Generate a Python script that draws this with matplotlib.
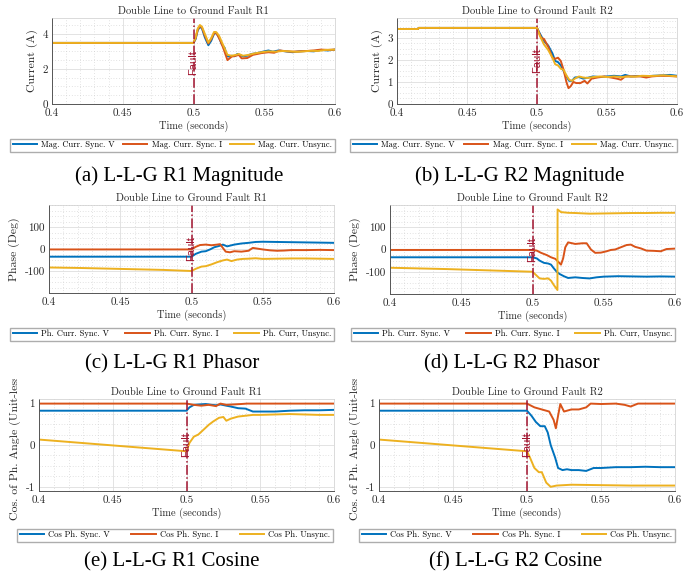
import numpy as np
import matplotlib
matplotlib.use("Agg")
import matplotlib.pyplot as plt
from matplotlib.ticker import AutoMinorLocator
from matplotlib.patches import Rectangle

plt.rcParams['font.family'] = 'cmr10'
plt.rcParams['axes.unicode_minus'] = False
plt.rcParams['mathtext.fontset'] = 'cm'

# couleurs style MATLAB
C_V = '#0072BD'
C_I = '#D95319'
C_U = '#EDB120'
C_FAULT = '#A2142F'

FAULT_T = 0.5
TITRES = ["Double Line to Ground Fault R1", "Double Line to Ground Fault R2"]

# (a) magnitude R1
a_tv = [0.4, 0.5, 0.5015, 0.503, 0.5045, 0.506, 0.508, 0.5105, 0.5125, 0.5145, 0.516, 0.518, 0.520, 0.522, 0.5235, 0.525, 0.527, 0.529, 0.531, 0.533, 0.535, 0.538, 0.541, 0.545, 0.55, 0.553, 0.556, 0.56, 0.565, 0.57, 0.575, 0.58, 0.585, 0.59, 0.595, 0.6]
a_v = [3.48, 3.48, 3.7, 4.2, 4.4, 4.3, 3.8, 3.35, 3.6, 4.0, 4.05, 3.8, 3.4, 3.2, 2.75, 2.7, 2.75, 2.72, 2.85, 2.78, 2.72, 2.75, 2.85, 2.9, 3.0, 3.05, 2.98, 3.05, 3.0, 2.95, 3.0, 3.02, 3.0, 3.08, 3.05, 3.1]
a_ti = [0.4, 0.5, 0.5015, 0.503, 0.5045, 0.506, 0.508, 0.5105, 0.5125, 0.515, 0.5165, 0.519, 0.521, 0.524, 0.527, 0.530, 0.532, 0.534, 0.538, 0.542, 0.548, 0.553, 0.557, 0.561, 0.566, 0.57, 0.575, 0.58, 0.585, 0.59, 0.595, 0.6]
a_i = [3.48, 3.48, 3.75, 4.25, 4.45, 4.35, 3.9, 3.45, 3.7, 4.1, 4.0, 3.6, 3.2, 2.5, 2.7, 2.75, 2.8, 2.6, 2.62, 2.8, 2.9, 2.95, 2.92, 3.05, 3.0, 2.98, 3.0, 3.02, 3.05, 3.1, 3.08, 3.1]
a_tu = [0.4, 0.5, 0.5015, 0.503, 0.5045, 0.506, 0.508, 0.5105, 0.5125, 0.5145, 0.516, 0.518, 0.521, 0.524, 0.527, 0.53, 0.532, 0.535, 0.539, 0.543, 0.548, 0.553, 0.558, 0.563, 0.568, 0.573, 0.578, 0.583, 0.588, 0.593, 0.6]
a_u = [3.48, 3.48, 3.8, 4.3, 4.5, 4.4, 4.0, 3.5, 3.75, 4.1, 4.1, 3.9, 3.35, 2.8, 2.75, 2.8, 2.85, 2.75, 2.8, 2.88, 2.95, 3.0, 2.98, 3.02, 3.0, 2.97, 3.0, 3.03, 3.02, 3.08, 3.1]

# (b) magnitude R2
b_tv = [0.4, 0.415, 0.4155, 0.5, 0.502, 0.505, 0.508, 0.511, 0.513, 0.515, 0.517, 0.519, 0.521, 0.523, 0.525, 0.527, 0.53, 0.533, 0.537, 0.54, 0.545, 0.55, 0.555, 0.56, 0.563, 0.567, 0.572, 0.578, 0.583, 0.59, 0.595, 0.6]
b_v = [3.40, 3.40, 3.45, 3.45, 3.2, 2.85, 2.65, 2.3, 1.95, 1.9, 1.75, 1.5, 1.25, 1.05, 1.05, 1.2, 1.22, 1.15, 1.2, 1.25, 1.22, 1.25, 1.28, 1.25, 1.32, 1.25, 1.27, 1.25, 1.28, 1.3, 1.32, 1.28]
b_ti = [0.4, 0.415, 0.4155, 0.5, 0.503, 0.505, 0.508, 0.511, 0.513, 0.515, 0.517, 0.519, 0.521, 0.5225, 0.524, 0.526, 0.528, 0.531, 0.534, 0.536, 0.539, 0.543, 0.548, 0.553, 0.557, 0.56, 0.563, 0.568, 0.574, 0.578, 0.582, 0.588, 0.594, 0.6]
b_i = [3.40, 3.40, 3.45, 3.45, 3.0, 2.95, 2.6, 2.1, 2.05, 2.1, 1.95, 1.55, 1.0, 0.72, 0.8, 1.0, 0.95, 0.95, 1.05, 0.93, 1.15, 1.2, 1.25, 1.2, 1.15, 1.1, 1.25, 1.25, 1.25, 1.2, 1.25, 1.28, 1.27, 1.25]
b_tu = [0.4, 0.415, 0.4155, 0.5, 0.502, 0.505, 0.508, 0.511, 0.513, 0.515, 0.517, 0.519, 0.521, 0.523, 0.525, 0.527, 0.53, 0.533, 0.536, 0.54, 0.545, 0.55, 0.555, 0.56, 0.565, 0.57, 0.575, 0.58, 0.585, 0.59, 0.595, 0.6]
b_u = [3.40, 3.40, 3.45, 3.45, 3.1, 2.7, 2.45, 2.1, 1.8, 1.75, 1.6, 1.55, 1.3, 1.1, 1.05, 1.15, 1.25, 1.2, 1.18, 1.22, 1.25, 1.22, 1.25, 1.22, 1.25, 1.24, 1.28, 1.27, 1.28, 1.3, 1.28, 1.25]

# (c) phase R1
c_tv = [0.4, 0.5, 0.503, 0.507, 0.51, 0.513, 0.516, 0.52, 0.522, 0.525, 0.53, 0.535, 0.54, 0.545, 0.55, 0.56, 0.57, 0.58, 0.59, 0.6]
c_v = [-35, -35, -22, -12, -10, -2, 8, 15, 20, 12, 20, 25, 28, 32, 33, 32, 31, 30, 29, 28]
c_ti = [0.4, 0.5, 0.503, 0.506, 0.51, 0.514, 0.518, 0.52, 0.522, 0.524, 0.527, 0.53, 0.535, 0.54, 0.543, 0.546, 0.55, 0.555, 0.56, 0.565, 0.57, 0.58, 0.59, 0.6]
c_i = [-2, -2, 10, 18, 20, 17, 20, 22, 5, -12, -15, -10, -12, -8, 5, 2, -2, -6, -8, -7, -5, -5, -4, -5]
c_tu = [0.4, 0.42, 0.44, 0.46, 0.48, 0.5, 0.503, 0.507, 0.51, 0.514, 0.518, 0.522, 0.525, 0.528, 0.532, 0.536, 0.54, 0.545, 0.55, 0.56, 0.57, 0.58, 0.59, 0.6]
c_u = [-84, -86, -89, -92, -95, -100, -90, -80, -78, -70, -60, -52, -48, -55, -48, -45, -44, -42, -45, -44, -43, -43, -44, -45]

# (d) phase R2
d_tv = [0.4, 0.5, 0.503, 0.505, 0.508, 0.511, 0.513, 0.515, 0.517, 0.519, 0.522, 0.525, 0.53, 0.535, 0.54, 0.545, 0.55, 0.56, 0.57, 0.58, 0.59, 0.6]
d_v = [-35, -35, -40, -50, -60, -63, -68, -85, -100, -110, -120, -128, -125, -128, -130, -125, -122, -120, -121, -122, -121, -122]
d_ti = [0.4, 0.5, 0.503, 0.506, 0.51, 0.513, 0.516, 0.518, 0.52, 0.5215, 0.523, 0.525, 0.53, 0.535, 0.538, 0.541, 0.544, 0.548, 0.552, 0.555, 0.558, 0.562, 0.566, 0.569, 0.572, 0.576, 0.58, 0.585, 0.59, 0.594, 0.6]
d_i = [-2, -2, -5, -15, -25, -35, -42, -55, -68, -40, 10, 32, 25, 28, 28, 0, -15, -14, -8, -2, 0, 10, 20, 22, 12, 5, -5, -6, -8, 2, 4]
d_tu = [0.4, 0.42, 0.44, 0.46, 0.48, 0.5, 0.502, 0.505, 0.508, 0.511, 0.513, 0.515, 0.5175, 0.5176, 0.52, 0.525, 0.53, 0.54, 0.55, 0.56, 0.57, 0.58, 0.59, 0.6]
d_u = [-82, -85, -88, -92, -96, -100, -112, -130, -132, -130, -140, -160, -182, 180, 168, 165, 164, 161, 162, 163, 164, 164, 165, 165]

# (e) cosinus R1
e_tv = [0.4, 0.5, 0.502, 0.505, 0.509, 0.513, 0.517, 0.52, 0.523, 0.527, 0.53, 0.535, 0.54, 0.545, 0.55, 0.56, 0.57, 0.58, 0.59, 0.6]
e_v = [0.82, 0.82, 0.9, 0.96, 0.97, 0.98, 0.96, 0.95, 0.97, 0.94, 0.92, 0.88, 0.87, 0.8, 0.8, 0.8, 0.82, 0.83, 0.83, 0.84]
e_ti = [0.4, 0.5, 0.505, 0.51, 0.515, 0.52, 0.523, 0.527, 0.532, 0.537, 0.541, 0.545, 0.6]
e_i = [0.99, 0.99, 0.96, 0.94, 0.96, 0.93, 0.99, 0.96, 0.97, 0.98, 0.99, 0.99, 0.99]
e_tu = [0.4, 0.5, 0.502, 0.505, 0.508, 0.512, 0.515, 0.518, 0.522, 0.525, 0.527, 0.53, 0.535, 0.54, 0.545, 0.55, 0.56, 0.57, 0.58, 0.59, 0.6]
e_u = [0.13, -0.15, 0.05, 0.2, 0.25, 0.38, 0.48, 0.56, 0.65, 0.67, 0.58, 0.63, 0.68, 0.7, 0.72, 0.72, 0.73, 0.74, 0.73, 0.72, 0.72]

# (f) cosinus R2
f_tv = [0.4, 0.5, 0.503, 0.506, 0.509, 0.512, 0.514, 0.516, 0.519, 0.521, 0.524, 0.527, 0.53, 0.535, 0.54, 0.545, 0.55, 0.56, 0.57, 0.58, 0.59, 0.6]
f_v = [0.82, 0.82, 0.7, 0.55, 0.45, 0.45, 0.3, 0.0, -0.3, -0.55, -0.6, -0.58, -0.6, -0.6, -0.62, -0.55, -0.55, -0.53, -0.53, -0.52, -0.53, -0.53]
f_ti = [0.4, 0.5, 0.505, 0.51, 0.515, 0.518, 0.5195, 0.521, 0.5225, 0.525, 0.53, 0.535, 0.54, 0.543, 0.55, 0.56, 0.566, 0.57, 0.575, 0.6]
f_i = [0.99, 0.99, 0.9, 0.85, 0.8, 0.6, 0.4, 0.7, 0.98, 0.8, 0.85, 0.85, 0.9, 0.99, 0.98, 0.99, 0.96, 0.92, 0.99, 0.99]
f_tu = [0.4, 0.5, 0.502, 0.505, 0.508, 0.51, 0.513, 0.516, 0.52, 0.53, 0.55, 0.57, 0.6]
f_u = [0.13, -0.15, -0.3, -0.55, -0.65, -0.65, -0.9, -1.0, -0.97, -0.95, -0.96, -0.97, -0.97]

LEG_MAG = ["Mag. Curr. Sync. V", "Mag. Curr. Sync. I", "Mag. Curr. Unsync."]
LEG_PH = ["Ph. Curr. Sync. V", "Ph. Curr. Sync. I", "Ph. Curr, Unsync."]
LEG_COS = ["Cos Ph. Sync. V", "Cos Ph. Sync. I", "Cos Ph. Unsync."]
CAPTIONS = ["(a) L-L-G R1 Magnitude", "(b) L-L-G R2 Magnitude",
            "(c) L-L-G R1 Phasor", "(d) L-L-G R2 Phasor",
            "(e) L-L-G R1 Cosine", "(f) L-L-G R2 Cosine"]

W, H = 694, 582
fig = plt.figure(figsize=(W / 100, H / 100), dpi=100)


def px_axes(left, right, top, bottom):
    return fig.add_axes([left / W, (H - bottom) / H, (right - left) / W, (bottom - top) / H])


def panneau(box, titre, series, ylabel, ylim, yticks, legendes, leg_box, fault_y):
    ax = px_axes(*box)
    for (t, y), c in zip(series, [C_V, C_I, C_U]):
        ax.plot(t, y, color=c, linewidth=1.4)
    ax.axvline(FAULT_T, color=C_FAULT, linestyle='-.', linewidth=1.1)
    ax.text(FAULT_T, fault_y, "Fault", rotation=90, color=C_FAULT, fontsize=8,
            family='Liberation Sans', ha='center', va='center')
    ax.set_xlim(0.4, 0.6)
    ax.set_ylim(ylim)
    ax.set_xticks([0.4, 0.45, 0.5, 0.55, 0.6])
    ax.set_xticklabels(["0.4", "0.45", "0.5", "0.55", "0.6"])
    ax.set_yticks(yticks)
    ax.xaxis.set_minor_locator(AutoMinorLocator(5))
    ax.yaxis.set_minor_locator(AutoMinorLocator(4))
    ax.grid(True, which='major', color='#dedede', linewidth=0.6)
    ax.grid(True, which='minor', color='#c8c8c8', linewidth=0.5, linestyle=(0, (1, 3)))
    ax.set_axisbelow(True)
    ax.tick_params(which='both', length=0, labelsize=8, colors='#262626', pad=3)
    for s in ['left', 'bottom']:
        ax.spines[s].set_color('#555555')
        ax.spines[s].set_linewidth(0.7)
    for s in ['top', 'right']:
        ax.spines[s].set_color('#cccccc')
        ax.spines[s].set_linewidth(0.5)
    ax.set_title(titre, fontsize=7.5, color='#262626', pad=3)
    ax.set_xlabel("Time (seconds)", fontsize=7.5, color='#262626', labelpad=2)
    ax.set_ylabel(ylabel, fontsize=8.5, color='#262626', labelpad=3)
    l, r, t, b = leg_box
    fig.legend(ax.lines[:3], legendes, loc='lower left', ncol=3, mode='expand',
               bbox_to_anchor=(l / W, (H - b) / H, (r - l) / W, (b - t) / H),
               fontsize=6.1, frameon=True, fancybox=False, edgecolor='#999999',
               handlelength=2.9, handletextpad=0.5, borderpad=0.3, columnspacing=0.6,
               borderaxespad=0)
    return ax


panneau((52, 335, 18, 104), TITRES[0], [(a_tv, a_v), (a_ti, a_i), (a_tu, a_u)],
        "Current (A)", (0, 4.9), [0, 2, 4], LEG_MAG, (10, 335, 137, 152), 2.35)
panneau((397, 677, 18, 104), TITRES[1], [(b_tv, b_v), (b_ti, b_i), (b_tu, b_u)],
        "Current (A)", (0, 3.9), [0, 1, 2, 3], LEG_MAG, (350, 677, 137, 152), 1.95)
panneau((49, 334, 205, 293), TITRES[0], [(c_tv, c_v), (c_ti, c_i), (c_tu, c_u)],
        "Phase (Deg)", (-200, 200), [-100, 0, 100], LEG_PH, (10, 334, 326, 341), 0)
panneau((390, 675, 205, 294), TITRES[1], [(d_tv, d_v), (d_ti, d_i), (d_tu, d_u)],
        "Phase (Deg)", (-200, 200), [-100, 0, 100], LEG_PH, (351, 675, 326, 341), 0)
panneau((39, 334, 399, 491), TITRES[0], [(e_tv, e_v), (e_ti, e_i), (e_tu, e_u)],
        "Cos. of Ph. Angle (Unit-less)", (-1.1, 1.1), [-1, 0, 1], LEG_COS, (17, 333, 527, 542), 0)
panneau((379, 675, 399, 491), TITRES[1], [(f_tv, f_v), (f_ti, f_i), (f_tu, f_u)],
        "Cos. of Ph. Angle (Unit-less)", (-1.1, 1.1), [-1, 0, 1], LEG_COS, (359, 675, 527, 542), 0)

# la sous-figure d'origine coupe le haut des labels y du bas
for x0 in [2, 346]:
    fig.patches.append(Rectangle((x0 / W, (H - 379) / H), 26 / W, 14 / H,
                                 transform=fig.transFigure, facecolor='white',
                                 edgecolor='none', zorder=5))

pos_captions = [(179, 176), (520, 176), (172, 364), (512, 364), (172, 562), (516, 562)]
for txt, (x, y) in zip(CAPTIONS, pos_captions):
    fig.text(x / W, (H - y) / H, txt, fontsize=15, family='Liberation Serif',
             ha='center', va='center', color='black', zorder=6)

fig.savefig("out.png", dpi=100)
